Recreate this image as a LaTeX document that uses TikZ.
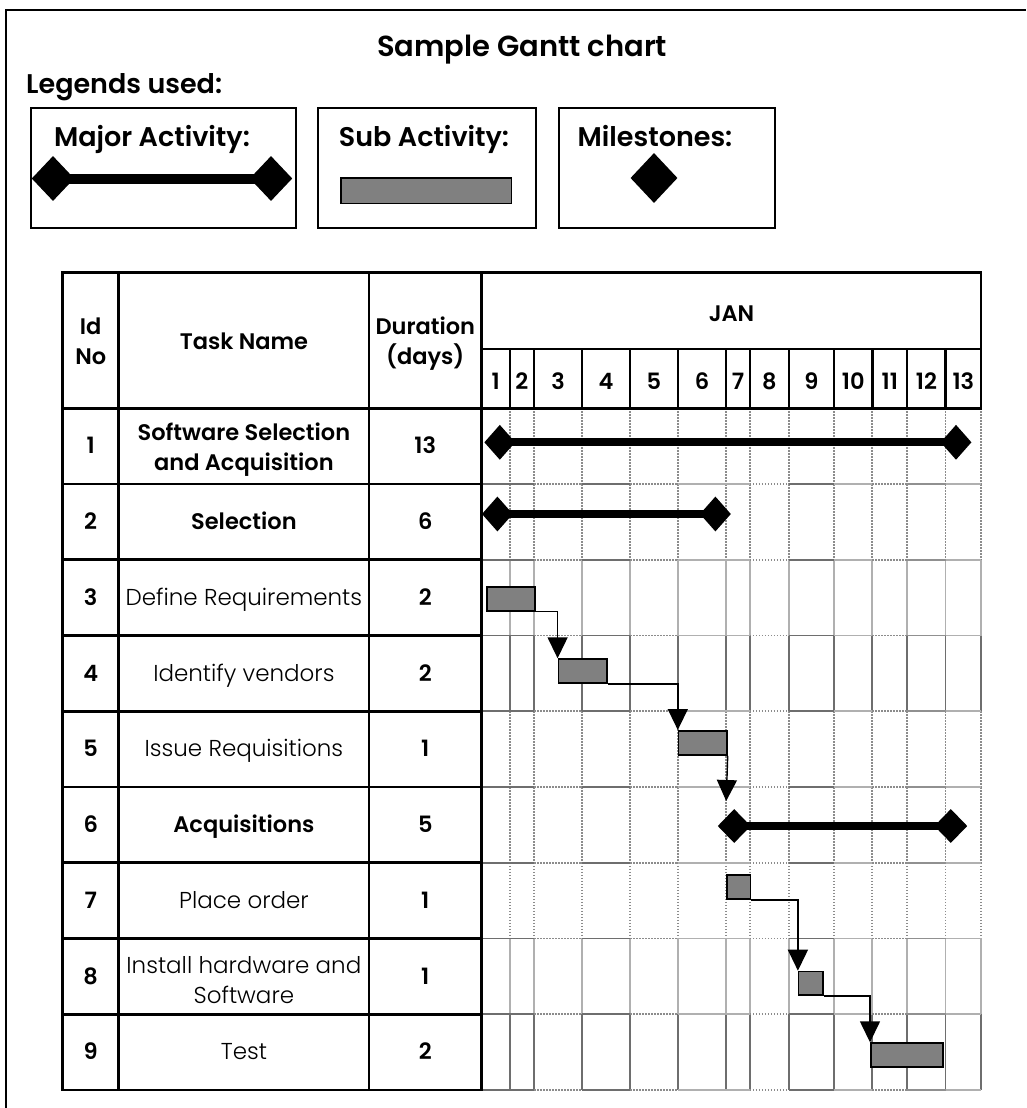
\documentclass[tikz,border=0pt]{standalone}
\usepackage{fontspec}
\setmainfont{Poppins}[UprightFont=* Light, BoldFont=* SemiBold]
\usetikzlibrary{shapes.geometric,arrows.meta}

\definecolor{barfill}{HTML}{808080}
\definecolor{gridlight}{HTML}{B0B0B0}
\definecolor{gridmid}{HTML}{909090}
\definecolor{griddark}{HTML}{6E6E6E}
\definecolor{griddot}{HTML}{8C8C8C}

\newcommand{\cellfont}{\fontsize{23}{30}\selectfont}
\newcommand{\cellboldfont}{\fontsize{22.5}{30}\selectfont\bfseries}
\newcommand{\legendfont}{\fontsize{27}{32}\selectfont\bfseries}

\tikzset{
  rule/.style={line width=2.6pt, black, line cap=rect},
  thinrule/.style={line width=2.2pt, black},
  gdot/.style={griddot, line width=1.9pt, dash pattern=on 1.5pt off 1.5pt},
  glight/.style={gridlight, line width=1.9pt},
  gmid/.style={gridmid, line width=1.9pt},
  gdark/.style={griddark, line width=1.9pt},
  cell/.style={anchor=base, inner sep=0pt, font=\cellfont},
  cellb/.style={anchor=base, inner sep=0pt, font=\cellboldfont},
  cell2/.style={anchor=center, inner sep=0pt, align=center, font=\cellfont},
  cell2b/.style={anchor=center, inner sep=0pt, align=center, font=\cellboldfont},
  legendbox/.style={draw, line width=2pt, anchor=north west, inner sep=0pt},
  legendlabel/.style={anchor=base, inner sep=0pt, font=\legendfont},
  subbar/.style={draw=black, fill=barfill, line width=1.5pt, anchor=north west, inner sep=0pt},
  milestone/.style={diamond, fill=black, inner sep=0pt},
  majorline/.style={line width=#1, black},
  link/.style={line width=1.4pt, -{Triangle[width=20pt,length=21pt]}},
}

\begin{document}
\begin{tikzpicture}[x=1pt,y=-1pt]
\useasboundingbox (0,0) rectangle (1026,1108);
\fill[white] (0,0) rectangle (1026,1108);

% page frame
\draw[line width=2pt] (6,1108) -- (6,10) -- (1026,10);

% headings
\node[anchor=base, inner sep=0pt, font=\fontsize{29}{34}\selectfont\bfseries] (title) at (522,56.7) {Sample Gantt chart};
\node[anchor=base west, inner sep=0pt, font=\legendfont] (legends) at (26,93.3) {Legends used:};

% legend boxes
\node[legendbox, minimum width=265pt, minimum height=120pt] (lg1) at (29.5,107) {};
\node[legendbox, minimum width=217.3pt, minimum height=120pt] (lg2) at (317.4,107) {};
\node[legendbox, minimum width=216.6pt, minimum height=120pt] (lg3) at (557.6,107) {};
\node[legendlabel] (lg1t) at (152,146.7) {Major Activity:};
\node[legendlabel] (lg2t) at (424,146.7) {Sub Activity:};
\node[legendlabel] (lg3t) at (655,146.7) {Milestones:};
\node[milestone, minimum width=42.6pt, minimum height=45pt] (lgA) at (53,178.5) {};
\node[milestone, minimum width=42.6pt, minimum height=45pt] (lgB) at (271,178.5) {};
\draw[majorline=10pt] (lgA.center) -- (lgB.center);
\node[subbar, minimum width=170.5pt, minimum height=25.7pt] (lgS) at (340,177) {};
\node[milestone, minimum width=47pt, minimum height=50pt] (lgM) at (654,178) {};

% chart grid: vertical day lines, one style per row
\foreach \r/\s in {1/gdot,2/gdot,3/glight,4/gdark,5/gdot,6/gdot,7/gdot,8/glight,9/gdark}{
  \pgfmathsetmacro{\ya}{408.3+75.74*(\r-1)}
  \pgfmathsetmacro{\yb}{408.3+75.74*\r}
  \foreach \x in {509.6,534,582,630,677.8,726.2,749.8,788.8,834.1,872.4,907.2,945.5,981}
    \draw[\s] (\x,\ya) -- (\x,\yb);
}
% chart grid: horizontal row lines, mixed segments
\foreach \r in {1,...,9}{
  \pgfmathsetmacro{\yy}{408.3+75.74*\r}
  \foreach \xa/\xb/\s in {482/509.6/gdark,509.6/534/gdark,534/582/gdot,582/630/gdark,630/677.8/gdot,677.8/726.2/glight,726.2/749.8/glight,749.8/788.8/gdot,788.8/834.1/gdark,834.1/872.4/glight,872.4/907.2/gdot,907.2/945.5/gmid,945.5/981/glight}
    \draw[\s] (\xa,\yy) -- (\xb,\yy);
}

% table rules
\draw[rule] (62.7,1090) -- (62.7,272.7) -- (981,272.7) -- (981,408.3);
\draw[rule] (62.7,408.3) -- (981,408.3);
\foreach \x in {118.7,369,481.7}
  \draw[rule] (\x,272.7) -- (\x,1090);
\foreach \r in {1,...,9}{
  \pgfmathsetmacro{\yy}{408.3+75.74*\r}
  \draw[rule] (62.7,\yy) -- (481.7,\yy);
}
\draw[thinrule] (481.7,349) -- (981,349);
\foreach \x in {509.6,534,582,630,677.8,726.2,749.8,788.8,834.1,872.4,907.2,945.5}
  \draw[thinrule] (\x,349) -- (\x,408.3);

% header texts
\node[cell2b] (hid) at (90.7,341.5) {Id\\No};
\node[cellb] (htask) at (243.9,349.4) {Task Name};
\node[cell2b] (hdur) at (425.3,343.4) {Duration\\(days)};
\node[cellb] (hjan) at (731.5,321) {JAN};
\foreach \n/\xc in {1/495.8,2/521.8,3/558,4/606,5/653.9,6/702,7/738,8/769.3,9/811.5,10/853.3,11/889.8,12/926.4,13/963.3}
  \node[cellb] (d\n) at (\xc,389.4) {\n};

% task rows
\node[cellb] (id1) at (90.7,453.9) {1};
\node[cell2b] (t1) at (243.9,449.7) {Software Selection\\and Acquisition};
\node[cellb] (du1) at (425.3,453.9) {13};
\node[cellb] (id2) at (90.7,529.6) {2};
\node[cellb] (t2) at (243.9,529.6) {Selection};
\node[cellb] (du2) at (425.3,529.6) {6};
\node[cellb] (id3) at (90.7,605.3) {3};
\node[cell] (t3) at (243.9,605.3) {Define Requirements};
\node[cellb] (du3) at (425.3,605.3) {2};
\node[cellb] (id4) at (90.7,681.1) {4};
\node[cell] (t4) at (243.9,681.1) {Identify vendors};
\node[cellb] (du4) at (425.3,681.1) {2};
\node[cellb] (id5) at (90.7,756.8) {5};
\node[cell] (t5) at (243.9,756.8) {Issue Requisitions};
\node[cellb] (du5) at (425.3,756.8) {1};
\node[cellb] (id6) at (90.7,832.6) {6};
\node[cellb] (t6) at (243.9,832.6) {Acquisitions};
\node[cellb] (du6) at (425.3,832.6) {5};
\node[cellb] (id7) at (90.7,908.3) {7};
\node[cell] (t7) at (243.9,908.3) {Place order};
\node[cellb] (du7) at (425.3,908.3) {1};
\node[cellb] (id8) at (90.7,984) {8};
\node[cell2] (t8) at (243.9,979.8) {Install hardware and\\Software};
\node[cellb] (du8) at (425.3,984) {1};
\node[cellb] (id9) at (90.7,1059.8) {9};
\node[cell] (t9) at (243.9,1059.8) {Test};
\node[cellb] (du9) at (425.3,1059.8) {2};

% major activities
\node[milestone, minimum width=31pt, minimum height=35pt] (m1a) at (499.8,442.3) {};
\node[milestone, minimum width=31pt, minimum height=35pt] (m1b) at (956,442.3) {};
\draw[majorline=8pt] (m1a.center) -- (m1b.center);
\node[milestone, minimum width=31pt, minimum height=35pt] (m2a) at (497.4,514) {};
\node[milestone, minimum width=31pt, minimum height=35pt] (m2b) at (715.4,514) {};
\draw[majorline=8pt] (m2a.center) -- (m2b.center);
\node[milestone, minimum width=33pt, minimum height=34pt] (m6a) at (734.2,826) {};
\node[milestone, minimum width=33pt, minimum height=34pt] (m6b) at (950.8,826) {};
\draw[majorline=8pt] (m6a.center) -- (m6b.center);

% sub activities
\node[subbar, minimum width=48pt, minimum height=24pt] (b3) at (486,586) {};
\node[subbar, minimum width=48.4pt, minimum height=24pt] (b4) at (557.6,658.3) {};
\node[subbar, minimum width=48.4pt, minimum height=24.3pt] (b5) at (677.8,730) {};
\node[subbar, minimum width=23.6pt, minimum height=24pt] (b7) at (726.2,874.3) {};
\node[subbar, minimum width=24.1pt, minimum height=23.6pt] (b8) at (797.9,970.7) {};
\node[subbar, minimum width=72pt, minimum height=23.7pt] (b9) at (870,1042.3) {};

% dependencies
\coordinate (a6) at (726.2,801);
\draw[link] (b3.south east) -| (b4.north west);
\draw[link] (b4.south east) -| (b5.north west);
\draw[link] (b5.south east) -- (a6);
\draw[link] (b7.south east) -| (b8.north west);
\draw[link] (b8.south east) -| (b9.north west);
\end{tikzpicture}
\end{document}
